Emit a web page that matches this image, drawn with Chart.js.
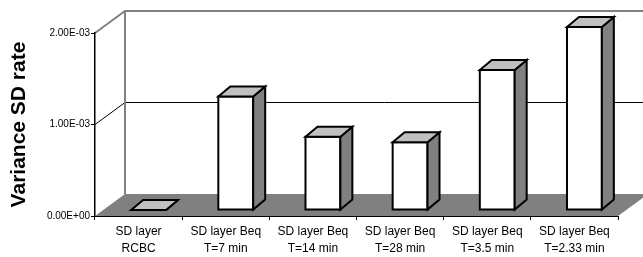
<!DOCTYPE html>
<html>
<head>
<meta charset="utf-8">
<script src="https://cdn.jsdelivr.net/npm/chart.js@4"></script>
<style>
  body { margin: 0; background: #fff; }
  #wrap { width: 643px; height: 257px; position: relative; }
</style>
</head>
<body>
<div id="wrap"><canvas id="myChart"></canvas></div>
<script>
// categories (two-line labels) and values
const categories = [
  ["SD layer", "RCBC"],
  ["SD layer Beq", "T=7 min"],
  ["SD layer Beq", "T=14 min"],
  ["SD layer Beq", "T=28 min"],
  ["SD layer Beq", "T=3.5 min"],
  ["SD layer Beq", "T=2.33 min"]
];
const varianceRate = [0, 0.00124, 0.00080, 0.00074, 0.00153, 0.00200];
const yTicks = [0, 0.001, 0.002];

const FONT = "'Liberation Sans', Arial, sans-serif";

// "1.00E-03" style labels
function sci(v) {
  if (v === 0) return "0.00E+00";
  const parts = v.toExponential(2).split("e");
  const n = parseInt(parts[1], 10);
  return parts[0] + "E" + (n < 0 ? "-" : "+") + String(Math.abs(n)).padStart(2, "0");
}

// 3D look: depth of walls / floor and of the bars
const WALL = { dx: 30, dy: -22 };
const BAR_FRONT = { dx: 10, dy: -6 };
const BAR_DEPTH = { dx: 12, dy: -10 };

const wallsPlugin = {
  id: "walls",
  beforeDraw(chart) {
    const ctx = chart.ctx;
    const a = chart.chartArea;
    const y = chart.scales.y;
    ctx.save();

    // floor
    ctx.fillStyle = "#808080";
    ctx.beginPath();
    ctx.moveTo(a.left, a.bottom);
    ctx.lineTo(a.right, a.bottom);
    ctx.lineTo(a.right + WALL.dx, a.bottom + WALL.dy);
    ctx.lineTo(a.left + WALL.dx, a.bottom + WALL.dy);
    ctx.closePath();
    ctx.fill();

    // gridlines (side wall diagonal + back wall)
    yTicks.forEach(v => {
      if (v === 0) return;
      const py = y.getPixelForValue(v);
      const top = v === yTicks[yTicks.length - 1];
      ctx.strokeStyle = top ? "#808080" : "#000";
      ctx.lineWidth = top ? 2 : 1;
      ctx.beginPath();
      ctx.moveTo(a.left, py);
      ctx.lineTo(a.left + WALL.dx, py + WALL.dy);
      ctx.lineTo(chart.width + 10, py + WALL.dy);
      ctx.stroke();
    });

    // back wall left edge
    ctx.strokeStyle = "#808080";
    ctx.lineWidth = 2;
    ctx.beginPath();
    ctx.moveTo(a.left + WALL.dx, a.top + WALL.dy);
    ctx.lineTo(a.left + WALL.dx, a.bottom + WALL.dy);
    ctx.stroke();

    ctx.restore();
  }
};

const bars3dPlugin = {
  id: "bars3d",
  afterDatasetsDraw(chart) {
    const ctx = chart.ctx;
    const meta = chart.getDatasetMeta(0);
    ctx.save();
    ctx.lineWidth = 2;
    ctx.strokeStyle = "#000";
    ctx.lineJoin = "miter";
    meta.data.forEach(el => {
      const x0 = el.x - el.width / 2 + BAR_FRONT.dx;
      const x1 = el.x + el.width / 2 + BAR_FRONT.dx;
      const yt = el.y + BAR_FRONT.dy;
      const yb = el.base + BAR_FRONT.dy;
      const dx = BAR_DEPTH.dx, dy = BAR_DEPTH.dy;

      // front
      ctx.fillStyle = "#fff";
      ctx.beginPath();
      ctx.rect(x0, yt, x1 - x0, yb - yt);
      ctx.fill();
      ctx.stroke();

      // side
      ctx.fillStyle = "#808080";
      ctx.beginPath();
      ctx.moveTo(x1, yt);
      ctx.lineTo(x1 + dx, yt + dy);
      ctx.lineTo(x1 + dx, yb + dy);
      ctx.lineTo(x1, yb);
      ctx.closePath();
      ctx.fill();
      ctx.stroke();

      // top
      ctx.fillStyle = "#c0c0c0";
      ctx.beginPath();
      ctx.moveTo(x0, yt);
      ctx.lineTo(x0 + dx, yt + dy);
      ctx.lineTo(x1 + dx, yt + dy);
      ctx.lineTo(x1, yt);
      ctx.closePath();
      ctx.fill();
      ctx.stroke();
    });
    ctx.restore();
  }
};

const ctx = document.getElementById("myChart").getContext("2d");

new Chart(ctx, {
  type: "bar",
  data: {
    labels: categories,
    datasets: [{
      label: "Variance SD rate",
      data: varianceRate,
      backgroundColor: "rgba(0,0,0,0)",
      borderWidth: 0,
      barPercentage: 0.4,
      categoryPercentage: 1.0
    }]
  },
  options: {
    responsive: true,
    maintainAspectRatio: false,
    animation: false,
    layout: {
      padding: { top: 33, right: 25, left: 0, bottom: 0 }
    },
    plugins: {
      legend: { display: false },
      tooltip: { enabled: false }
    },
    scales: {
      x: {
        afterFit: s => { s.height = 41; },
        border: { color: "#000", width: 1 },
        grid: { offset: true, drawOnChartArea: false, drawTicks: true, tickLength: 4, color: "#000" },
        ticks: {
          autoSkip: false,
          maxRotation: 0,
          padding: 3,
          color: "#000",
          font: { family: FONT, size: 12, lineHeight: 1.4 }
        }
      },
      y: {
        min: 0,
        max: 0.002,
        afterFit: s => { s.width = 95; },
        afterBuildTicks: s => { s.ticks = yTicks.map(v => ({ value: v })); },
        border: { color: "#000", width: 1.5 },
        grid: { drawOnChartArea: false, drawTicks: true, tickLength: 4, color: "#000" },
        ticks: {
          padding: 1,
          color: "#000",
          font: { family: FONT, size: 10 },
          callback: v => sci(v)
        },
        title: {
          display: true,
          text: "Variance SD rate",
          color: "#000",
          font: { family: FONT, size: 21, weight: "bold" },
          padding: { top: 7, bottom: 0 }
        }
      }
    }
  },
  plugins: [wallsPlugin, bars3dPlugin]
});
</script>
</body>
</html>
